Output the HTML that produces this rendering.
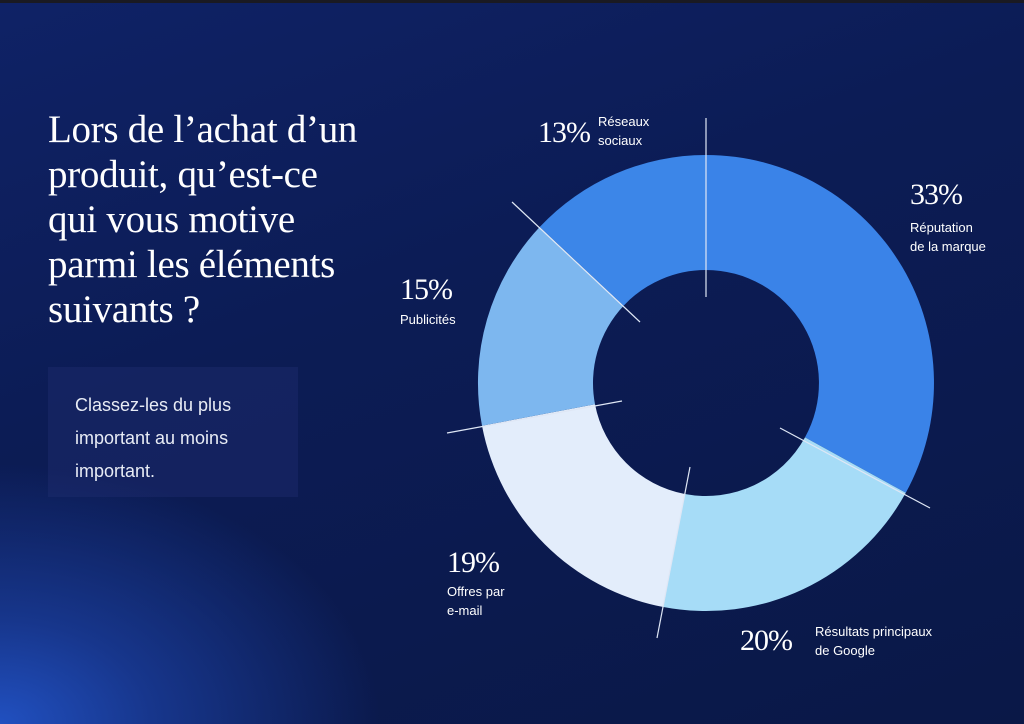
<!DOCTYPE html>
<html><head><meta charset="utf-8"><style>
html,body{margin:0;padding:0}
body{width:1024px;height:724px;overflow:hidden;position:relative;
background:radial-gradient(ellipse 380px 260px at 0px 724px,#2150c0 0%,#17368c 40%,rgba(12,28,80,0) 100%),linear-gradient(160deg,#0f2266 0%,#0c1c55 40%,#0a1847 100%);
font-family:"Liberation Sans",sans-serif;color:#fff}
.top{position:absolute;left:0;top:0;width:1024px;height:3px;background:#1a1a22}
h1{position:absolute;left:48px;top:107px;margin:0;font-family:"Liberation Serif",serif;font-weight:normal;font-size:39px;line-height:45px;letter-spacing:-0.3px;color:#fff}
.box{position:absolute;left:48px;top:367px;width:250px;height:130px;background:rgba(30,45,110,0.45)}
.box p{margin:0;position:absolute;left:27px;top:22px;font-size:18px;line-height:33px;color:#e8ecf5}
.pct{position:absolute;font-family:"Liberation Serif",serif;font-size:30px;letter-spacing:-1px;line-height:30px}
.lab{position:absolute;font-size:13px;line-height:19px}
</style></head><body>
<div class="top"></div>
<h1>Lors de l’achat d’un<br>produit, qu’est-ce<br>qui vous motive<br>parmi les éléments<br>suivants ?</h1>
<div class="box"><p>Classez-les du plus<br>important au moins<br>important.</p></div>
<svg width="1024" height="724" style="position:absolute;left:0;top:0">
<path d="M706,155 A228,228 0 0 1 905.8,492.8 L805,437.4 A113,113 0 0 0 706,270 Z" fill="#3a83e8"/>
<path d="M905.8,492.8 A228,228 0 0 1 663.3,607 L684.8,494 A113,113 0 0 0 805,437.4 Z" fill="#a6dcf7"/>
<path d="M663.3,607 A228,228 0 0 1 482,425.7 L595,404.2 A113,113 0 0 0 684.8,494 Z" fill="#e3edfb"/>
<path d="M482,425.7 A228,228 0 0 1 539.8,226.9 L623.6,305.7 A113,113 0 0 0 595,404.2 Z" fill="#7db7ef"/>
<path d="M539.8,226.9 A228,228 0 0 1 706,155 L706,270 A113,113 0 0 0 623.6,305.7 Z" fill="#3c86e8"/>
<g stroke="#dfe7f5" stroke-width="1.2">
<line x1="706" y1="118" x2="706" y2="297"/>
<line x1="512" y1="202" x2="640" y2="322"/>
<line x1="447" y1="433" x2="622" y2="401"/>
<line x1="657" y1="638" x2="690" y2="467"/>
<line x1="780" y1="428" x2="930" y2="508"/>
</g>
</svg>
<div class="pct" style="left:538px;top:118px">13%</div>
<div class="lab" style="left:598px;top:112px">Réseaux<br>sociaux</div>
<div class="pct" style="left:910px;top:180px">33%</div>
<div class="lab" style="left:910px;top:218px">Réputation<br>de la marque</div>
<div class="pct" style="left:400px;top:275px">15%</div>
<div class="lab" style="left:400px;top:310px">Publicités</div>
<div class="pct" style="left:447px;top:548px">19%</div>
<div class="lab" style="left:447px;top:582px">Offres par<br>e-mail</div>
<div class="pct" style="left:740px;top:626px">20%</div>
<div class="lab" style="left:815px;top:622px">Résultats principaux<br>de Google</div>
</body></html>
